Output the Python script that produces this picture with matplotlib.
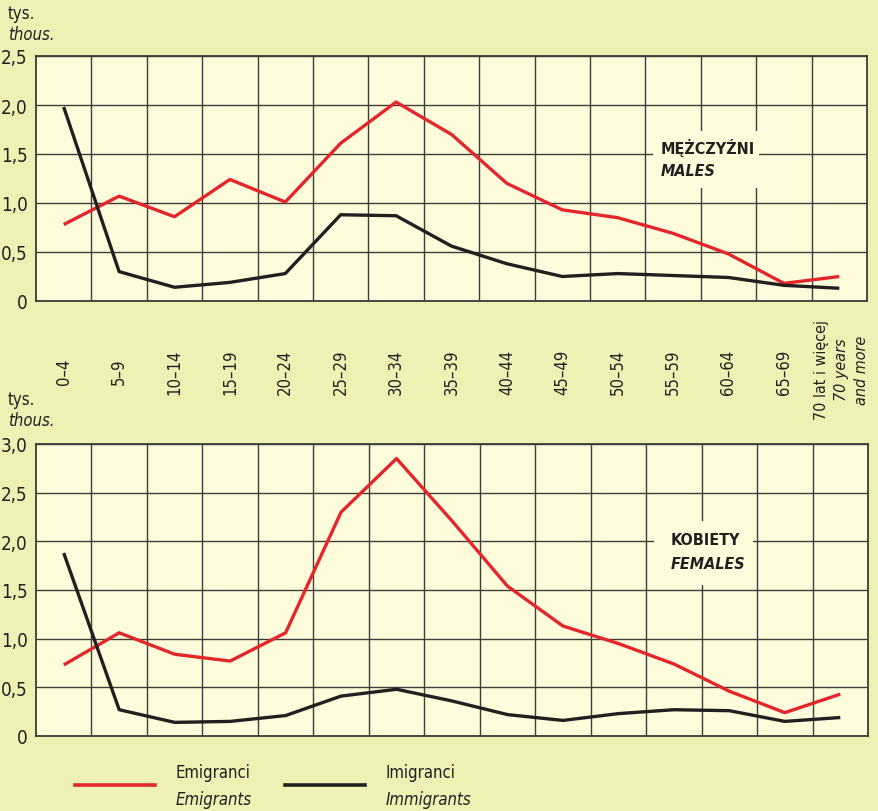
import matplotlib.pyplot as plt
from matplotlib.patches import Rectangle
from matplotlib.lines import Line2D

plt.rcParams['font.family'] = ['DejaVu Sans']
plt.rcParams['font.stretch'] = 'condensed'

# age groups
ages = ['0–4', '5–9', '10–14', '15–19', '20–24', '25–29', '30–34', '35–39',
        '40–44', '45–49', '50–54', '55–59', '60–64', '65–69']
last_age = ['70 lat i więcej', '70 years', 'and more']

# males, thousands
males_emig = [0.78, 1.07, 0.86, 1.24, 1.01, 1.61, 2.03, 1.70, 1.20, 0.93, 0.85, 0.69, 0.48, 0.18, 0.25]
males_immig = [1.98, 0.30, 0.14, 0.19, 0.28, 0.88, 0.87, 0.56, 0.38, 0.25, 0.28, 0.26, 0.24, 0.16, 0.13]

# females, thousands
fem_emig = [0.73, 1.06, 0.84, 0.77, 1.06, 2.30, 2.85, 2.21, 1.54, 1.13, 0.95, 0.74, 0.46, 0.24, 0.43]
fem_immig = [1.88, 0.27, 0.14, 0.15, 0.21, 0.41, 0.48, 0.36, 0.22, 0.16, 0.23, 0.27, 0.26, 0.15, 0.19]

RED = '#e3262c'
BLACK = '#231f20'
OUTER = '#eef0b4'
INNER = '#fffcdc'
GRID = '#3c3c38'

W, H = 879, 812
fig = plt.figure(figsize=(W / 100, H / 100), dpi=100, facecolor=OUTER)


def px_axes(left, top, right, bottom):
    return fig.add_axes([left / W, 1 - bottom / H, (right - left) / W, (bottom - top) / H])


def panel(ax, emig, immig, ymax, title, sub, box, t1, t2):
    xs = list(range(len(emig)))
    ax.set_facecolor(INNER)
    ax.plot(xs, emig, color=RED, lw=2.4, zorder=5, solid_capstyle='butt')
    ax.plot(xs, immig, color=BLACK, lw=2.4, zorder=5, solid_capstyle='butt')
    ax.set_xlim(-0.5, len(emig) - 0.5)
    ax.set_ylim(0, ymax)
    ax.set_xticks([i + 0.5 for i in range(len(emig) - 1)])
    ax.set_xticklabels([])
    yt = [i * 0.5 for i in range(int(ymax / 0.5) + 1)]
    ax.set_yticks(yt)
    ax.set_yticklabels(['0' if v == 0 else ('%.1f' % v).replace('.', ',') for v in yt], fontsize=13.5)
    ax.tick_params(length=0, pad=6, colors='#231f20')
    ax.grid(True, color=GRID, lw=1.0)
    ax.set_axisbelow(True)
    for s in ax.spines.values():
        s.set_color(GRID)
        s.set_linewidth(1.3)
    ax.add_patch(Rectangle((box[0], box[1]), box[2] - box[0], box[3] - box[1],
                           facecolor=INNER, edgecolor='none', zorder=2))
    ax.text(t1[0], t1[1], title, fontsize=11.5, fontweight='bold', ha='left', va='center',
            color='#231f20', zorder=6)
    ax.text(t2[0], t2[1], sub, fontsize=11.5, fontweight='bold', style='italic', ha='left',
            va='center', color='#231f20', zorder=6)


ax1 = px_axes(36, 57, 867, 302)
panel(ax1, males_emig, males_immig, 2.5, 'MĘŻCZYŹNI', 'MALES',
      (10.64, 1.15, 12.55, 1.735), (10.78, 1.57), (10.78, 1.33))

ax2 = px_axes(36, 445, 868, 737)
panel(ax2, fem_emig, fem_immig, 3.0, 'KOBIETY', 'FEMALES',
      (10.64, 1.55, 12.42, 2.21), (10.95, 2.02), (10.95, 1.77))

# unit labels
for y0 in (14, 400):
    fig.text(8 / W, 1 - y0 / H, 'tys.', fontsize=12, va='center', ha='left', color='#231f20')
    fig.text(8 / W, 1 - (y0 + 21) / H, 'thous.', fontsize=12, style='italic', va='center',
             ha='left', color='#231f20')

# age labels between panels
for i, a in enumerate(ages):
    x = ax1.transData.transform((i, 0))[0] / W
    fig.text(x, 1 - 372 / H, a, rotation=90, rotation_mode='anchor', ha='center', va='center',
             fontsize=12, color='#231f20')
x_last = ax1.transData.transform((14, 0))[0] / W
for j, (t, st) in enumerate(zip(last_age, ['normal', 'italic', 'italic'])):
    fig.text(x_last + (j * 20 - 18) / W, 1 - 370 / H, t, rotation=90, rotation_mode='anchor',
             ha='center', va='center', fontsize=11.5, style=st, color='#231f20')

# legend
for x0, x1, col, t, st in [(75, 155, RED, 'Emigranci', 'Emigrants'),
                           (285, 365, BLACK, 'Imigranci', 'Immigrants')]:
    fig.add_artist(Line2D([x0 / W, x1 / W], [1 - 786 / H] * 2, color=col, lw=2.6,
                          transform=fig.transFigure))
    fig.text((x1 + 21) / W, 1 - 773 / H, t, fontsize=12, va='center', ha='left', color='#231f20')
    fig.text((x1 + 21) / W, 1 - 800 / H, st, fontsize=12, style='italic', va='center',
             ha='left', color='#231f20')

fig.savefig('out.png', dpi=100, facecolor=OUTER)
